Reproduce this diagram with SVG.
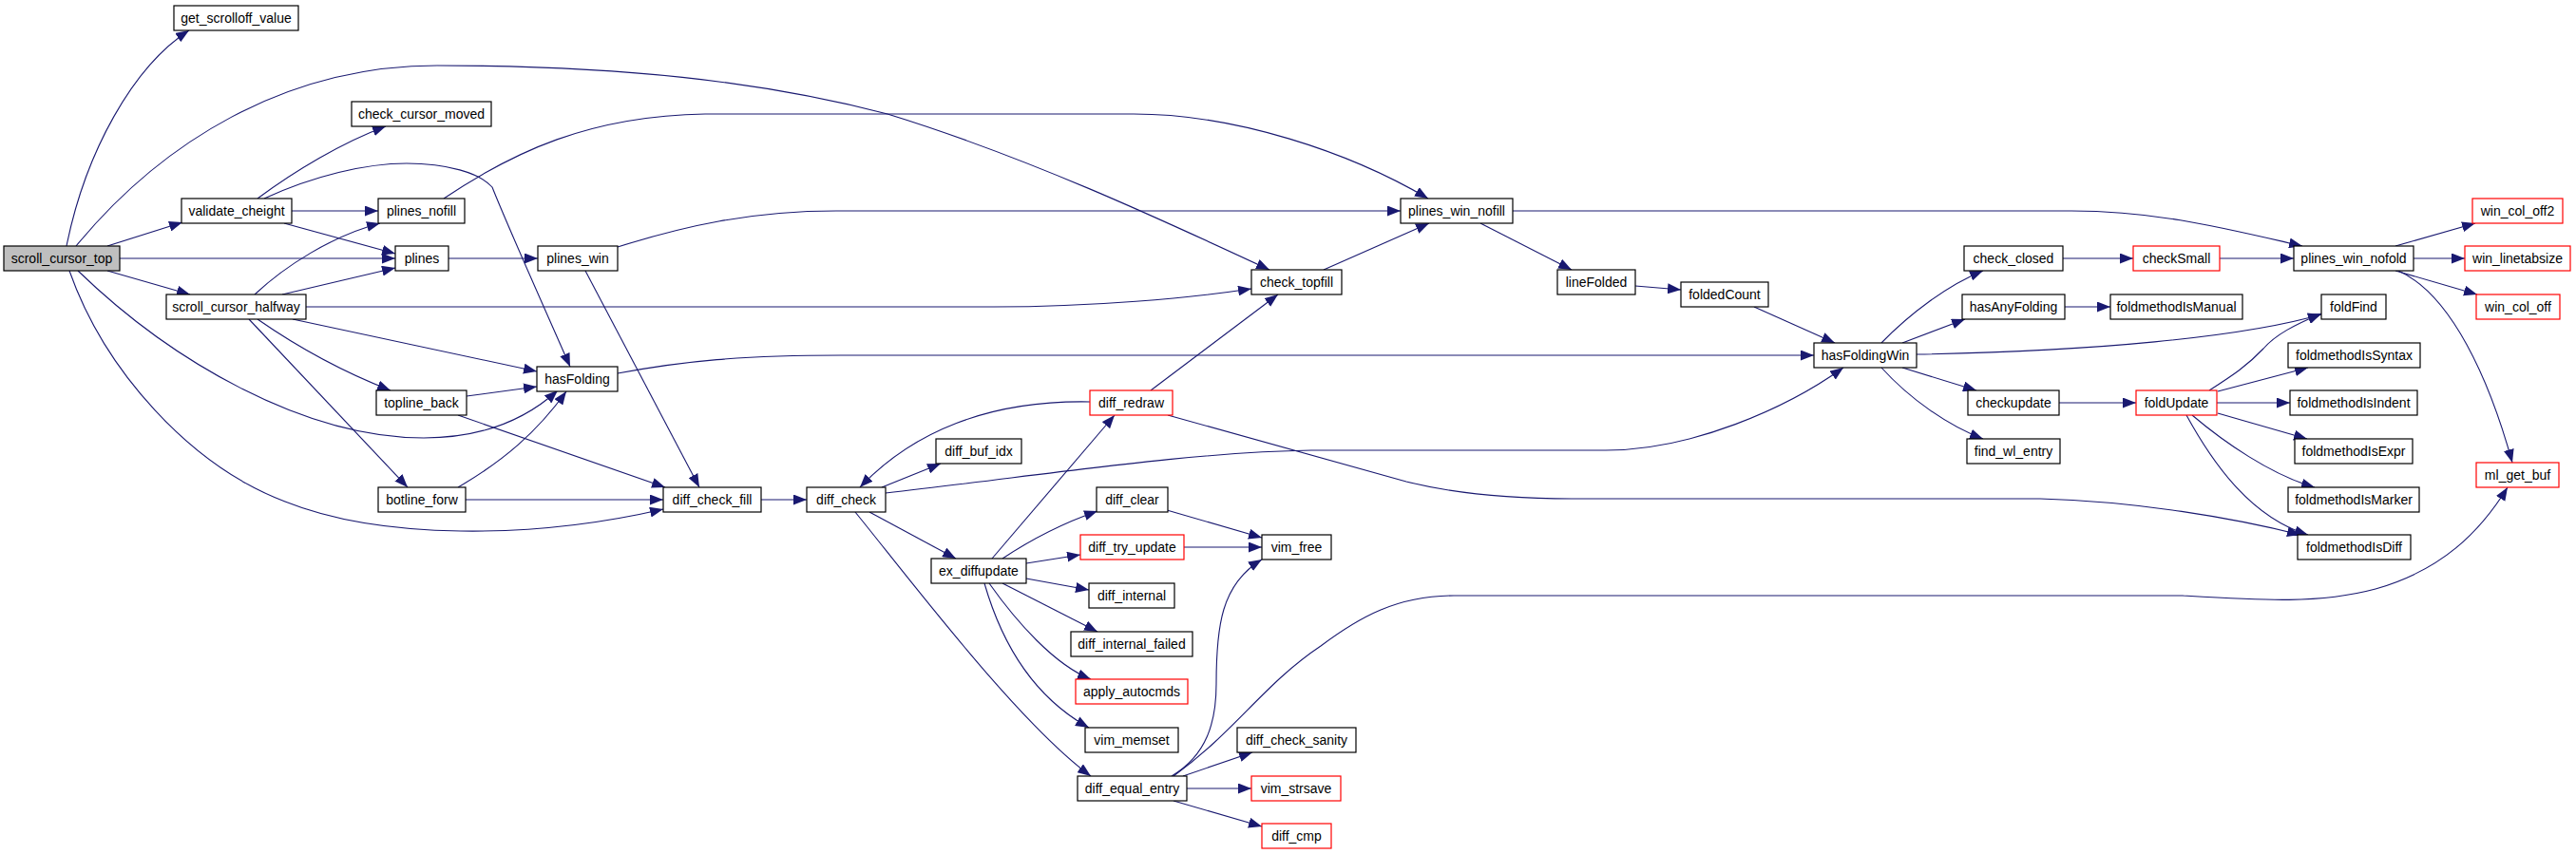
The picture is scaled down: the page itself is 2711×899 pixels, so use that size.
<svg xmlns="http://www.w3.org/2000/svg" width="2711" height="899" viewBox="0 0 2711 899">
<style>
.n rect{fill:#ffffff;stroke:#000000;stroke-width:1.2}
.n.r rect{stroke:#ff0000}
.n.root rect{fill:#bfbfbf}
.n text{font-family:"Liberation Sans",Arial,sans-serif;font-size:14px;fill:#000000;text-anchor:middle}
#edges path{fill:none;stroke:#191970;stroke-width:1.1;marker-end:url(#a)}
</style>
<defs>
<marker id="a" markerWidth="14" markerHeight="11" refX="14" refY="5.5" orient="auto" markerUnits="userSpaceOnUse"><path d="M0,0 L14,5.5 L0,11 z" fill="#191970"/></marker>
</defs>
<rect width="2711" height="899" fill="#ffffff"/>
<g id="edges">
<path d="M70,259 C90,160 140,70 199,32"/>
<path d="M80,259 C170,150 300,69 460,69 C650,69 800,85 934,120 C1080,165 1220,230 1336,284"/>
<path d="M113,259 L192,234"/>
<path d="M126,272 L416,272"/>
<path d="M113,285 L200,310"/>
<path d="M82,285 C180,380 320,461 446,461 C510,461 555,440 587,411"/>
<path d="M73,285 C110,390 200,490 300,528 C400,568 560,568 698,536"/>
<path d="M271,209 C310,180 360,150 406,133"/>
<path d="M278,209 C330,185 385,172 428,172 C470,172 505,182 518,197 C535,240 580,340 600,386"/>
<path d="M307,222 L398,222"/>
<path d="M299,235 L416,267"/>
<path d="M467,209 C540,160 620,122 742,120 L1193,120 C1300,120 1420,160 1503,209"/>
<path d="M268,310 C300,280 350,248 400,235"/>
<path d="M297,310 L416,282"/>
<path d="M322,323 L1046,323 C1150,323 1250,314 1317,304"/>
<path d="M308,336 L565,391"/>
<path d="M271,336 C320,370 370,395 411,411"/>
<path d="M262,336 L429,513"/>
<path d="M472,272 L566,272"/>
<path d="M650,260 C720,238 790,222 880,222 L1474,222"/>
<path d="M616,285 L736,513"/>
<path d="M1393,284 L1504,235"/>
<path d="M650,393 C720,380 780,374 885,374 L1909,374"/>
<path d="M491,417 L565,407"/>
<path d="M482,437 L700,513"/>
<path d="M482,513 C530,485 565,455 596,412"/>
<path d="M490,526 L698,526"/>
<path d="M801,526 L849,526"/>
<path d="M928,513 L990,488"/>
<path d="M932,519 C1100,500 1250,476 1380,474 L1690,474 C1780,474 1880,430 1940,387"/>
<path d="M915,539 L1006,588"/>
<path d="M900,539 C950,600 1070,760 1148,817"/>
<path d="M1147,423 C1040,421 960,455 905,513"/>
<path d="M1211,411 L1345,310"/>
<path d="M1229,437 L1480,507 C1540,522 1600,525 1654,525 L2147,525 C2250,528 2350,545 2421,563"/>
<path d="M1044,588 L1173,437"/>
<path d="M1055,588 C1085,568 1115,552 1155,538"/>
<path d="M1080,593 L1137,584"/>
<path d="M1080,609 L1146,621"/>
<path d="M1055,614 L1155,665"/>
<path d="M1041,614 C1070,655 1110,700 1148,715"/>
<path d="M1036,614 C1055,680 1090,735 1146,766"/>
<path d="M1228,537 L1328,566"/>
<path d="M1246,576 L1328,576"/>
<path d="M1233,817 C1270,795 1280,760 1280,720 C1280,660 1285,615 1328,589"/>
<path d="M1235,817 C1300,770 1330,720 1390,680 C1430,650 1470,627 1530,627 L2297,627 C2380,632 2440,636 2500,620 C2570,600 2610,560 2639,513"/>
<path d="M1245,817 L1318,792"/>
<path d="M1249,830 L1317,830"/>
<path d="M1235,843 L1328,870"/>
<path d="M1558,235 L1654,284"/>
<path d="M1592,222 L2180,222 C2270,222 2340,240 2423,259"/>
<path d="M1721,301 L1769,305"/>
<path d="M1846,323 L1931,361"/>
<path d="M1980,361 C2010,330 2050,300 2087,285"/>
<path d="M2002,361 L2068,336"/>
<path d="M2017,373 C2200,370 2360,355 2443,331"/>
<path d="M2002,387 L2080,411"/>
<path d="M1980,387 C2010,420 2050,448 2087,462"/>
<path d="M2171,272 L2245,272"/>
<path d="M2336,272 L2414,272"/>
<path d="M2521,259 L2605,235"/>
<path d="M2540,272 L2594,272"/>
<path d="M2521,285 L2607,310"/>
<path d="M2524,285 C2580,310 2620,400 2644,487"/>
<path d="M2173,323 L2221,323"/>
<path d="M2167,424 L2248,424"/>
<path d="M2325,411 C2350,395 2365,385 2382,367 C2395,352 2415,342 2443,330"/>
<path d="M2334,412 L2429,387"/>
<path d="M2333,424 L2410,424"/>
<path d="M2334,435 L2428,462"/>
<path d="M2307,437 C2340,465 2390,500 2436,513"/>
<path d="M2301,437 C2330,490 2370,545 2429,563"/>
</g>
<g id="scroll_cursor_top" class="n root"><rect x="4" y="259" width="122" height="26"/><text x="65" y="277">scroll_cursor_top</text></g>
<g id="get_scrolloff_value" class="n"><rect x="183" y="6" width="131" height="26"/><text x="248.5" y="24">get_scrolloff_value</text></g>
<g id="validate_cheight" class="n"><rect x="191" y="209" width="116" height="26"/><text x="249" y="227">validate_cheight</text></g>
<g id="check_cursor_moved" class="n"><rect x="370" y="107" width="147" height="26"/><text x="443.5" y="125">check_cursor_moved</text></g>
<g id="plines_nofill" class="n"><rect x="398" y="209" width="91" height="26"/><text x="443.5" y="227">plines_nofill</text></g>
<g id="plines" class="n"><rect x="416" y="259" width="56" height="26"/><text x="444" y="277">plines</text></g>
<g id="scroll_cursor_halfway" class="n"><rect x="175" y="310" width="147" height="26"/><text x="248.5" y="328">scroll_cursor_halfway</text></g>
<g id="hasFolding" class="n"><rect x="565" y="386" width="85" height="26"/><text x="607.5" y="404">hasFolding</text></g>
<g id="topline_back" class="n"><rect x="396" y="411" width="95" height="26"/><text x="443.5" y="429">topline_back</text></g>
<g id="botline_forw" class="n"><rect x="398" y="513" width="92" height="26"/><text x="444" y="531">botline_forw</text></g>
<g id="plines_win" class="n"><rect x="566" y="259" width="84" height="26"/><text x="608" y="277">plines_win</text></g>
<g id="diff_check_fill" class="n"><rect x="698" y="513" width="103" height="26"/><text x="749.5" y="531">diff_check_fill</text></g>
<g id="diff_check" class="n"><rect x="849" y="513" width="83" height="26"/><text x="890.5" y="531">diff_check</text></g>
<g id="diff_buf_idx" class="n"><rect x="985" y="462" width="90" height="26"/><text x="1030" y="480">diff_buf_idx</text></g>
<g id="ex_diffupdate" class="n"><rect x="980" y="588" width="100" height="26"/><text x="1030" y="606">ex_diffupdate</text></g>
<g id="diff_redraw" class="n r"><rect x="1147" y="411" width="87" height="26"/><text x="1190.5" y="429">diff_redraw</text></g>
<g id="check_topfill" class="n"><rect x="1317" y="284" width="95" height="26"/><text x="1364.5" y="302">check_topfill</text></g>
<g id="diff_clear" class="n"><rect x="1154" y="513" width="75" height="26"/><text x="1191.5" y="531">diff_clear</text></g>
<g id="diff_try_update" class="n r"><rect x="1137" y="563" width="109" height="26"/><text x="1191.5" y="581">diff_try_update</text></g>
<g id="diff_internal" class="n"><rect x="1146" y="614" width="90" height="26"/><text x="1191" y="632">diff_internal</text></g>
<g id="diff_internal_failed" class="n"><rect x="1127" y="665" width="128" height="26"/><text x="1191" y="683">diff_internal_failed</text></g>
<g id="apply_autocmds" class="n r"><rect x="1132" y="715" width="118" height="26"/><text x="1191" y="733">apply_autocmds</text></g>
<g id="vim_memset" class="n"><rect x="1142" y="766" width="98" height="26"/><text x="1191" y="784">vim_memset</text></g>
<g id="diff_equal_entry" class="n"><rect x="1134" y="817" width="115" height="26"/><text x="1191.5" y="835">diff_equal_entry</text></g>
<g id="vim_free" class="n"><rect x="1328" y="563" width="73" height="26"/><text x="1364.5" y="581">vim_free</text></g>
<g id="diff_check_sanity" class="n"><rect x="1302" y="766" width="125" height="26"/><text x="1364.5" y="784">diff_check_sanity</text></g>
<g id="vim_strsave" class="n r"><rect x="1317" y="817" width="94" height="26"/><text x="1364" y="835">vim_strsave</text></g>
<g id="diff_cmp" class="n r"><rect x="1328" y="867" width="73" height="26"/><text x="1364.5" y="885">diff_cmp</text></g>
<g id="plines_win_nofill" class="n"><rect x="1474" y="209" width="118" height="26"/><text x="1533" y="227">plines_win_nofill</text></g>
<g id="lineFolded" class="n"><rect x="1639" y="284" width="82" height="26"/><text x="1680" y="302">lineFolded</text></g>
<g id="foldedCount" class="n"><rect x="1769" y="297" width="92" height="26"/><text x="1815" y="315">foldedCount</text></g>
<g id="hasFoldingWin" class="n"><rect x="1909" y="361" width="108" height="26"/><text x="1963" y="379">hasFoldingWin</text></g>
<g id="check_closed" class="n"><rect x="2067" y="259" width="104" height="26"/><text x="2119" y="277">check_closed</text></g>
<g id="checkSmall" class="n r"><rect x="2245" y="259" width="91" height="26"/><text x="2290.5" y="277">checkSmall</text></g>
<g id="plines_win_nofold" class="n"><rect x="2414" y="259" width="126" height="26"/><text x="2477" y="277">plines_win_nofold</text></g>
<g id="win_col_off2" class="n r"><rect x="2602" y="209" width="95" height="26"/><text x="2649.5" y="227">win_col_off2</text></g>
<g id="win_linetabsize" class="n r"><rect x="2594" y="259" width="111" height="26"/><text x="2649.5" y="277">win_linetabsize</text></g>
<g id="win_col_off" class="n r"><rect x="2606" y="310" width="88" height="26"/><text x="2650" y="328">win_col_off</text></g>
<g id="hasAnyFolding" class="n"><rect x="2065" y="310" width="108" height="26"/><text x="2119" y="328">hasAnyFolding</text></g>
<g id="foldmethodIsManual" class="n"><rect x="2221" y="310" width="139" height="26"/><text x="2290.5" y="328">foldmethodIsManual</text></g>
<g id="foldFind" class="n"><rect x="2443" y="310" width="68" height="26"/><text x="2477" y="328">foldFind</text></g>
<g id="foldmethodIsSyntax" class="n"><rect x="2408" y="361" width="139" height="26"/><text x="2477.5" y="379">foldmethodIsSyntax</text></g>
<g id="checkupdate" class="n"><rect x="2071" y="411" width="96" height="26"/><text x="2119" y="429">checkupdate</text></g>
<g id="foldUpdate" class="n r"><rect x="2248" y="411" width="85" height="26"/><text x="2290.5" y="429">foldUpdate</text></g>
<g id="foldmethodIsIndent" class="n"><rect x="2410" y="411" width="134" height="26"/><text x="2477" y="429">foldmethodIsIndent</text></g>
<g id="find_wl_entry" class="n"><rect x="2070" y="462" width="98" height="26"/><text x="2119" y="480">find_wl_entry</text></g>
<g id="foldmethodIsExpr" class="n"><rect x="2415" y="462" width="124" height="26"/><text x="2477" y="480">foldmethodIsExpr</text></g>
<g id="ml_get_buf" class="n r"><rect x="2606" y="487" width="87" height="26"/><text x="2649.5" y="505">ml_get_buf</text></g>
<g id="foldmethodIsMarker" class="n"><rect x="2408" y="513" width="138" height="26"/><text x="2477" y="531">foldmethodIsMarker</text></g>
<g id="foldmethodIsDiff" class="n"><rect x="2418" y="563" width="119" height="26"/><text x="2477.5" y="581">foldmethodIsDiff</text></g>
</svg>
